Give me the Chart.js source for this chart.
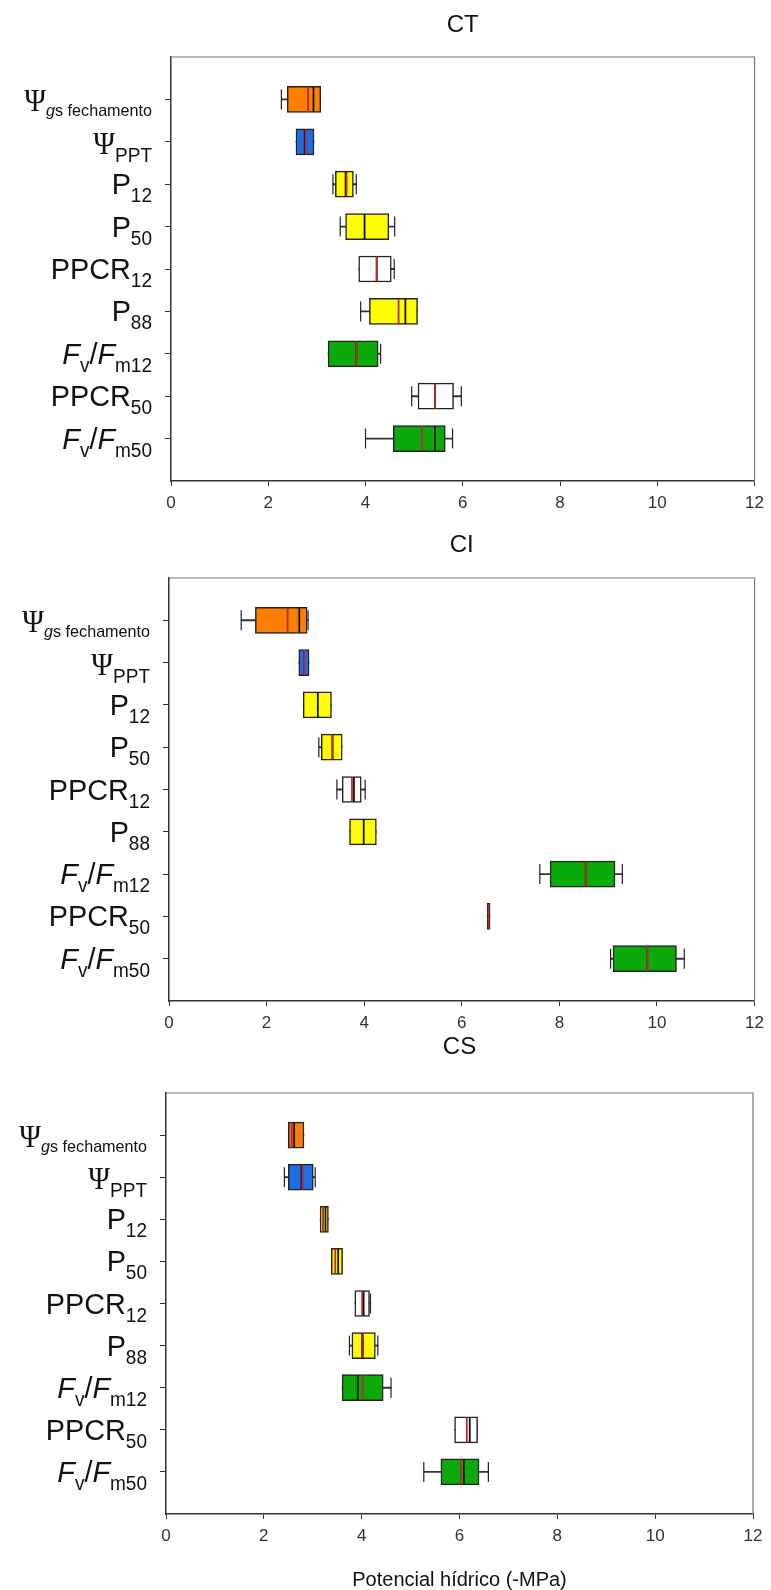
<!DOCTYPE html>
<html>
<head>
<meta charset="utf-8">
<script src="https://cdn.jsdelivr.net/npm/chart.js@4.4.1/dist/chart.umd.min.js"></script>
<style>
  body { margin: 0; background: #fff; }
  #wrap { position: relative; width: 771px; height: 1590px; overflow: hidden; }
  canvas { position: absolute; left: 0; }
</style>
</head>
<body>
<div id="wrap">
  <canvas id="ct" width="771" height="520" style="top:0"></canvas>
  <canvas id="ci" width="771" height="540" style="top:520px"></canvas>
  <canvas id="cs" width="771" height="570" style="top:1022px"></canvas>
</div>
<script>
const categories = ['Ψgs fechamento', 'ΨPPT', 'P12', 'P50', 'PPCR12', 'P88', 'Fv/Fm12', 'PPCR50', 'Fv/Fm50'];
const positions = [1, 2, 3, 4, 5, 6, 7, 8, 9];
const boxColours = ['#ff7f00', '#1e6fe6', '#ffff00', '#ffff00', '#ffffff', '#ffff00', '#0aaa0a', '#ffffff', '#0aaa0a'];

// CT
const ctMin    = [2.27, 2.57, 3.33, 3.48, 3.86, 3.90, 3.23, 4.95, 4.00];
const ctQ1     = [2.39, 2.57, 3.38, 3.59, 3.86, 4.08, 3.23, 5.08, 4.57];
const ctMedian = [2.93, 2.75, 3.59, 3.98, 4.23, 4.82, 3.81, 5.43, 5.43];
const ctMean   = [2.82, 2.77, 3.61, null, 4.23, 4.68, 3.81, 5.43, 5.16];
const ctQ3     = [3.08, 2.94, 3.75, 4.48, 4.53, 5.07, 4.26, 5.81, 5.64];
const ctMax    = [3.08, 2.94, 3.81, 4.60, 4.59, 5.07, 4.31, 5.97, 5.79];

// CI
const ciMin    = [1.48, 2.66, 2.75, 3.07, 3.44, 3.70, 7.60, 6.52, 9.05];
const ciQ1     = [1.77, 2.66, 2.75, 3.12, 3.55, 3.70, 7.81, 6.52, 9.10];
const ciMedian = [2.67, 2.77, 3.05, 3.35, 3.79, 3.99, 8.54, 6.55, 9.80];
const ciMean   = [2.43, 2.77, null, 3.35, 3.75, null, 8.54, 6.55, 9.80];
const ciQ3     = [2.83, 2.87, 3.33, 3.55, 3.94, 4.25, 9.14, 6.58, 10.40];
const ciMax    = [2.85, 2.87, 3.33, 3.55, 4.02, 4.25, 9.29, 6.58, 10.56];

// CS
const csMin    = [2.50, 2.42, 3.15, 3.38, 3.86, 3.75, 3.60, 5.90, 5.27];
const csQ1     = [2.50, 2.50, 3.15, 3.38, 3.86, 3.80, 3.60, 5.90, 5.62];
const csMedian = [2.62, 2.77, 3.26, 3.52, 4.04, 4.01, 3.92, 6.21, 6.09];
const csMean   = [2.57, 2.79, 3.21, 3.46, 4.01, 4.03, 4.02, 6.15, 6.03];
const csQ3     = [2.82, 3.01, 3.32, 3.61, 4.16, 4.28, 4.44, 6.37, 6.40];
const csMax    = [2.82, 3.05, 3.32, 3.61, 4.18, 4.33, 4.60, 6.37, 6.59];

// label pieces with sub/italic formatting (same order as categories)
const labelParts = [
  [['Ψ', 'psi'], ['g', 'subItalicSmall'], ['s fechamento', 'subSmall']],
  [['Ψ', 'psi'], ['PPT', 'subPsi']],
  [['P', 'main'], ['12', 'sub']],
  [['P', 'main'], ['50', 'sub']],
  [['PPCR', 'main'], ['12', 'sub']],
  [['P', 'main'], ['88', 'sub']],
  [['F', 'mainItalic'], ['v', 'sub'], ['/', 'main'], ['F', 'mainItalic'], ['m12', 'sub']],
  [['PPCR', 'main'], ['50', 'sub']],
  [['F', 'mainItalic'], ['v', 'sub'], ['/', 'main'], ['F', 'mainItalic'], ['m50', 'sub']],
];

const textStyles = {
  main: { font: '30px "Liberation Sans"', sx: 0.96, dy: 10 },
  mainItalic: { font: 'italic 30px "Liberation Sans"', sx: 0.96, dy: 10 },
  sub: { font: '20px "Liberation Sans"', sx: 0.95, dy: 18 },
  psi: { font: '31px "Liberation Serif"', sx: 0.95, dy: 12 },
  subPsi: { font: '20px "Liberation Sans"', sx: 0.95, dy: 20 },
  subSmall: { font: '17px "Liberation Sans"', sx: 0.95, dy: 17 },
  subItalicSmall: { font: 'italic 17px "Liberation Sans"', sx: 0.95, dy: 17 },
};

Chart.defaults.font.family = '"Liberation Sans", Arial, sans-serif';
Chart.defaults.color = '#222';

const categoryLabels = {
  id: 'categoryLabels',
  afterDraw(chart) {
    const { ctx, chartArea, scales } = chart;
    ctx.save();
    ctx.fillStyle = '#111';
    ctx.textAlign = 'left';
    ctx.textBaseline = 'alphabetic';
    labelParts.forEach((parts, i) => {
      const y = scales.y.getPixelForValue(positions[i]);
      let width = 0;
      parts.forEach(([t, s]) => {
        ctx.font = textStyles[s].font;
        width += ctx.measureText(t).width * textStyles[s].sx;
      });
      let x = chartArea.left - 19 - width;
      parts.forEach(([t, s]) => {
        const st = textStyles[s];
        ctx.font = st.font;
        const w = ctx.measureText(t).width * st.sx;
        ctx.save();
        ctx.translate(x, y + st.dy);
        ctx.scale(st.sx, 1);
        ctx.fillText(t, 0, 0);
        ctx.restore();
        x += w;
      });
    });
    ctx.restore();
  }
};

// top + right sides of the frame (left/bottom are the axis borders)
const frame = {
  id: 'frame',
  beforeDatasetsDraw(chart) {
    const { ctx, chartArea: a } = chart;
    ctx.save();
    ctx.strokeStyle = '#777';
    ctx.lineWidth = 1.2;
    ctx.beginPath();
    ctx.moveTo(a.left, a.top);
    ctx.lineTo(a.right, a.top);
    ctx.lineTo(a.right, a.bottom);
    ctx.stroke();
    ctx.restore();
  }
};

function points(values) {
  return positions.flatMap((p, i) => values[i] == null ? [] : [{ x: values[i], y: p }]);
}

function makeChart(id, title, stats, lay) {
  const [mins, q1s, medians, means, q3s, maxs] = stats;
  const caps = positions.flatMap((p, i) => {
    const out = [];
    if (mins[i] < q1s[i]) out.push({ x: mins[i], y: p });
    if (maxs[i] > q3s[i]) out.push({ x: maxs[i], y: p });
    return out;
  });

  return new Chart(document.getElementById(id), {
    type: 'bar',
    data: {
      datasets: [
        {
          type: 'scatter', order: 0, data: points(means),
          pointStyle: 'line', pointRotation: 90, pointRadius: 12.5,
          pointBorderColor: '#c0282d', pointBorderWidth: 1.8,
        },
        {
          type: 'scatter', order: 1, data: points(medians),
          pointStyle: 'line', pointRotation: 90, pointRadius: 12.5,
          pointBorderColor: '#111', pointBorderWidth: 1.8,
        },
        {
          type: 'scatter', order: 2, data: caps,
          pointStyle: 'line', pointRotation: 90, pointRadius: 10,
          pointBorderColor: '#222', pointBorderWidth: 1.2,
        },
        {
          order: 3,
          data: positions.map((p, i) => ({ x: [q1s[i], q3s[i]], y: p })),
          backgroundColor: boxColours,
          borderColor: '#222',
          borderWidth: 1.5,
          borderSkipped: false,
          grouped: false,
          categoryPercentage: 1,
          barPercentage: 1,
          maxBarThickness: 26,
        },
        {
          order: 4,
          data: positions.map((p, i) => ({ x: [mins[i], maxs[i]], y: p })),
          backgroundColor: '#333',
          borderWidth: 0,
          grouped: false,
          categoryPercentage: 1,
          barPercentage: 1,
          maxBarThickness: 1.2,
        },
      ]
    },
    options: {
      indexAxis: 'y',
      responsive: false,
      devicePixelRatio: 1,
      animation: false,
      events: [],
      layout: { padding: { left: 0, right: lay.right, top: 0, bottom: 0 } },
      plugins: {
        legend: { display: false },
        tooltip: { enabled: false },
        title: {
          display: true,
          text: title,
          fullSize: false,
          color: '#111',
          font: { size: 24, weight: 'normal', lineHeight: 1 },
          padding: { top: 13, bottom: lay.titleBottom },
        },
      },
      scales: {
        x: {
          type: 'linear',
          min: 0,
          max: 12,
          ticks: { stepSize: 2, color: '#333', font: { size: 17 }, padding: 7 },
          grid: { drawOnChartArea: false, tickLength: 5, tickColor: '#333' },
          border: { color: '#333', width: 1.5 },
          title: {
            display: !!lay.xTitle,
            text: lay.xTitle || '',
            color: '#111',
            font: { size: 20 },
            padding: { top: 0, bottom: 0 },
          },
          afterFit(axis) { axis.height = lay.xHeight; },
        },
        y: {
          type: 'linear',
          reverse: true,
          min: 0,
          max: 10,
          offset: false,
          ticks: { display: false },
          grid: { offset: false, drawOnChartArea: false, tickLength: 6, tickColor: '#333' },
          border: { color: '#333', width: 1.5 },
          afterBuildTicks(axis) { axis.ticks = positions.map(v => ({ value: v })); },
          afterFit(axis) { axis.width = lay.left; },
        },
      },
    },
    plugins: [frame, categoryLabels],
  });
}

makeChart('ct', 'CT', [ctMin, ctQ1, ctMedian, ctMean, ctQ3, ctMax],
  { left: 171, right: 12, titleBottom: 20, xHeight: 39 });
makeChart('ci', 'CI', [ciMin, ciQ1, ciMedian, ciMean, ciQ3, ciMax],
  { left: 169, right: 15, titleBottom: 21, xHeight: 59 });
makeChart('cs', 'CS', [csMin, csQ1, csMedian, csMean, csQ3, csMax],
  { left: 166, right: 18, titleBottom: 34, xHeight: 78, xTitle: 'Potencial hídrico (-MPa)' });
</script>
</body>
</html>
